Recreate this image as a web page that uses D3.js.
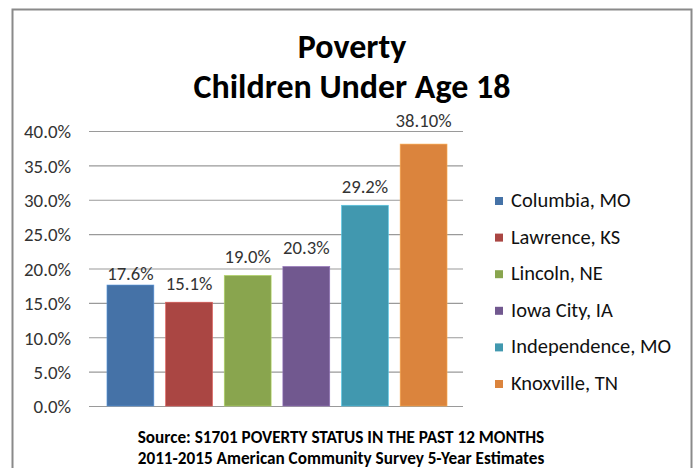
<!DOCTYPE html>
<html>
<head>
<meta charset="utf-8">
<script src="https://cdn.jsdelivr.net/npm/d3@7"></script>
<style>
  html, body { margin: 0; padding: 0; background: #fff; }
  svg { display: block; font-family: Carlito, Lato, "Open Sans", sans-serif; }
</style>
</head>
<body>
<svg id="chart" width="694" height="468"></svg>
<script>
// Child poverty rates by city (share of children under 18)
const cities = ["Columbia, MO", "Lawrence, KS", "Lincoln, NE", "Iowa City, IA", "Independence, MO", "Knoxville, TN"];
const rates = [0.176, 0.151, 0.190, 0.203, 0.292, 0.381];
const rateLabels = ["17.6%", "15.1%", "19.0%", "20.3%", "29.2%", "38.10%"];
const colors = ["#4572A7", "#AA4643", "#89A54E", "#71588F", "#4198AF", "#DB843D"];
const yTicks = [0, 0.05, 0.10, 0.15, 0.20, 0.25, 0.30, 0.35, 0.40];
const titleLines = ["Poverty", "Children Under Age 18"];
const sourceLines = [
  "Source: S1701 POVERTY STATUS IN THE PAST 12 MONTHS",
  "2011-2015 American Community Survey 5-Year Estimates"
];

// gap (px) between each bar top and the baseline of its value label
const labelGap = [5.5, 12.5, 12.5, 12.5, 12.5, 17];

const svg = d3.select("#chart");

// size a text group so that its widest member spans the given width
function fitFont(sel, width) {
  let widest = 0;
  sel.each(function () { widest = Math.max(widest, this.getComputedTextLength()); });
  const base = parseFloat(sel.style("font-size"));
  if (widest > 0) sel.style("font-size", (base * width / widest).toFixed(2) + "px");
}

// chart frame
svg.append("rect")
  .attr("x", 12.5).attr("y", 9.5)
  .attr("width", 679).attr("height", 470)
  .attr("fill", "#fff")
  .attr("stroke", "#8a8a8a").attr("stroke-width", 2);

const plot = { left: 89, right: 463, top: 131, bottom: 406 };

const x = d3.scaleBand()
  .domain(cities)
  .range([101.1, 452.9])
  .paddingInner(0.2)
  .paddingOuter(0.1);

const y = d3.scaleLinear()
  .domain([0, 0.40])
  .range([plot.bottom, plot.top]);

// gridlines + tick labels
const yAxis = d3.axisLeft(y)
  .tickValues(yTicks)
  .tickFormat(d3.format(".1%"))
  .tickSize(plot.right - plot.left)
  .tickPadding(18);

const gy = svg.append("g")
  .attr("transform", `translate(${plot.right},0)`)
  .call(yAxis);
gy.select(".domain").remove();
gy.selectAll(".tick line").attr("stroke", "#9a9a9a").attr("stroke-width", 1.2);
const tickText = gy.selectAll(".tick text")
  .attr("fill", "#333")
  .attr("dy", "0.36em")
  .style("font-family", "Carlito, Lato, sans-serif")
  .style("font-size", "15px");
fitFont(tickText, 47);

// bars
svg.append("g").selectAll("rect")
  .data(cities)
  .join("rect")
  .attr("x", d => x(d))
  .attr("width", x.bandwidth())
  .attr("y", (d, i) => y(rates[i]))
  .attr("height", (d, i) => y(0) - y(rates[i]))
  .attr("fill", (d, i) => colors[i])
  .attr("stroke", (d, i) => d3.color(colors[i]).brighter(0.8))
  .attr("stroke-width", 0.6);

// value labels
const valueText = svg.append("g").selectAll("text")
  .data(cities)
  .join("text")
  .attr("x", d => x(d) + x.bandwidth() / 2)
  .attr("y", (d, i) => y(rates[i]) - labelGap[i])
  .attr("text-anchor", "middle")
  .attr("fill", "#333")
  .style("font-size", "15px")
  .text((d, i) => rateLabels[i]);
fitFont(valueText, 56);

// title
const titleText = svg.append("g").selectAll("text")
  .data(titleLines)
  .join("text")
  .attr("x", 352)
  .attr("y", (d, i) => 58 + i * 40)
  .attr("text-anchor", "middle")
  .attr("fill", "#000")
  .style("font-weight", "bold")
  .style("font-size", "30px")
  .text(d => d);
fitFont(titleText, 317);

// legend
const legend = svg.append("g").selectAll("g")
  .data(cities)
  .join("g")
  .attr("transform", (d, i) => `translate(495,${201 + i * 36.6})`);
legend.append("rect")
  .attr("x", 0).attr("y", -4)
  .attr("width", 8).attr("height", 8)
  .attr("fill", (d, i) => colors[i]);
const legendText = legend.append("text")
  .attr("x", 16).attr("y", 6)
  .attr("fill", "#111")
  .style("font-size", "16px")
  .text(d => d);
fitFont(legendText, 160);

// source note
const sourceText = svg.append("g").selectAll("text")
  .data(sourceLines)
  .join("text")
  .attr("x", 341)
  .attr("y", (d, i) => 443 + i * 20.5)
  .attr("text-anchor", "middle")
  .attr("fill", "#000")
  .style("font-weight", "bold")
  .style("font-size", "14px")
  .text(d => d);
fitFont(sourceText, 407);
</script>
</body>
</html>
